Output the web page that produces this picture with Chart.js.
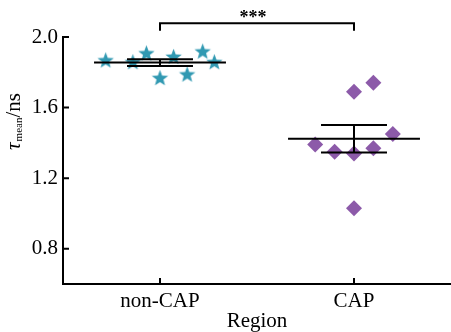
<!DOCTYPE html>
<html>
<head>
<meta charset="utf-8">
<script src="https://cdn.jsdelivr.net/npm/chart.js"></script>
<style>
  html, body { margin: 0; padding: 0; background: #fff; }
  #wrap { width: 451px; height: 332px; }
</style>
</head>
<body>
<div id="wrap"><canvas id="chart" width="451" height="332"></canvas></div>
<script>
var categories = ['non-CAP', 'CAP'];
var yTicks = [0.8, 1.2, 1.6, 2.0];

// jittered x positions and values for each group
var nonCapX = [0.72, 0.86, 0.93, 1.0, 1.07, 1.14, 1.22, 1.28];
var nonCapY = [1.87, 1.86, 1.91, 1.77, 1.89, 1.79, 1.92, 1.86];
var capX = [1.8, 1.9, 2.0, 2.0, 2.0, 2.1, 2.1, 2.2];
var capY = [1.39, 1.35, 1.69, 1.34, 1.03, 1.74, 1.37, 1.45];

var meanVals = [1.855, 1.423];
var semVals = [0.019, 0.078];
var sigLabel = '***';
var sigLevel = 2.078;
var sigDrop = 2.036;

var serif = '"Liberation Serif", "DejaVu Serif", serif';
var teal = '#3199b2';
var purple = '#8c5aa9';

function pts(xs, ys) {
    return xs.map(function (x, i) { return { x: x, y: ys[i] }; });
}

// filled five point star for the point style
function makeStar(r, color) {
    var c = document.createElement('canvas');
    c.width = 2 * r + 2;
    c.height = 2 * r + 2;
    var g = c.getContext('2d');
    var cx = c.width / 2, cy = c.height / 2 + r * 0.1;
    g.beginPath();
    for (var i = 0; i < 10; i++) {
        var rad = i % 2 === 0 ? r : r * 0.42;
        var a = -Math.PI / 2 + i * Math.PI / 5;
        var px = cx + rad * Math.cos(a), py = cy + rad * Math.sin(a);
        if (i === 0) g.moveTo(px, py); else g.lineTo(px, py);
    }
    g.closePath();
    g.fillStyle = color;
    g.fill();
    return c;
}

var starImg = makeStar(8.6, teal);

var extras = {
    id: 'extras',
    afterDatasetsDraw: function (chart) {
        var ctx = chart.ctx;
        var xs = chart.scales.x, ys = chart.scales.y;
        ctx.save();
        ctx.strokeStyle = '#000';
        ctx.lineWidth = 2;
        // mean and sem bars
        meanVals.forEach(function (m, i) {
            var c = i + 1;
            var s = semVals[i];
            ctx.beginPath();
            ctx.moveTo(xs.getPixelForValue(c - 0.34), ys.getPixelForValue(m));
            ctx.lineTo(xs.getPixelForValue(c + 0.34), ys.getPixelForValue(m));
            ctx.moveTo(xs.getPixelForValue(c - 0.17), ys.getPixelForValue(m + s));
            ctx.lineTo(xs.getPixelForValue(c + 0.17), ys.getPixelForValue(m + s));
            ctx.moveTo(xs.getPixelForValue(c - 0.17), ys.getPixelForValue(m - s));
            ctx.lineTo(xs.getPixelForValue(c + 0.17), ys.getPixelForValue(m - s));
            ctx.moveTo(xs.getPixelForValue(c), ys.getPixelForValue(m - s));
            ctx.lineTo(xs.getPixelForValue(c), ys.getPixelForValue(m + s));
            ctx.stroke();
        });
        // significance bracket
        var x1 = xs.getPixelForValue(1), x2 = xs.getPixelForValue(2);
        var yTop = ys.getPixelForValue(sigLevel), yBot = ys.getPixelForValue(sigDrop);
        ctx.beginPath();
        ctx.moveTo(x1, yBot);
        ctx.lineTo(x1, yTop);
        ctx.lineTo(x2, yTop);
        ctx.lineTo(x2, yBot);
        ctx.stroke();
        ctx.fillStyle = '#000';
        ctx.font = 'bold 18px ' + serif;
        ctx.textAlign = 'center';
        ctx.textBaseline = 'alphabetic';
        ctx.fillText(sigLabel, (x1 + x2) / 2 - 4, yTop);
        // inward tick marks
        ctx.lineWidth = 2;
        ctx.beginPath();
        yTicks.forEach(function (v) {
            var py = ys.getPixelForValue(v);
            ctx.moveTo(chart.chartArea.left, py);
            ctx.lineTo(chart.chartArea.left + 6, py);
        });
        [1, 2].forEach(function (v) {
            var px = xs.getPixelForValue(v);
            ctx.moveTo(px, chart.chartArea.bottom);
            ctx.lineTo(px, chart.chartArea.bottom - 6);
        });
        ctx.stroke();
        // y axis title with subscript
        ctx.translate(20, 122);
        ctx.rotate(-Math.PI / 2);
        ctx.textAlign = 'left';
        ctx.font = 'italic 21px ' + serif;
        var w1 = ctx.measureText('\u03c4').width;
        ctx.font = '11px ' + serif;
        var w2 = ctx.measureText('mean').width;
        ctx.font = '21px ' + serif;
        var w3 = ctx.measureText('/ns').width;
        var x0 = -(w1 + w2 + w3) / 2;
        ctx.font = 'italic 21px ' + serif;
        ctx.fillText('\u03c4', x0, 0);
        ctx.font = '11px ' + serif;
        ctx.fillText('mean', x0 + w1 + 1, 2);
        ctx.font = '21px ' + serif;
        ctx.fillText('/ns', x0 + w1 + w2 + 1, 0);
        ctx.restore();
    }
};

new Chart(document.getElementById('chart'), {
    type: 'scatter',
    data: {
        datasets: [
            {
                label: categories[0],
                data: pts(nonCapX, nonCapY),
                pointStyle: starImg,
                pointRadius: 9,
                clip: false
            },
            {
                label: categories[1],
                data: pts(capX, capY),
                pointStyle: 'rectRot',
                pointRadius: 8,
                pointBackgroundColor: purple,
                pointBorderWidth: 0,
                backgroundColor: purple,
                borderColor: purple,
                clip: false
            }
        ]
    },
    plugins: [extras],
    options: {
        responsive: false,
        animation: false,
        layout: { autoPadding: false, padding: { top: 37, left: 0, right: 0, bottom: 0 } },
        plugins: {
            legend: { display: false },
            tooltip: { enabled: false }
        },
        scales: {
            x: {
                type: 'linear',
                min: 0.5,
                max: 2.5,
                afterBuildTicks: function (s) {
                    s.ticks = [{ value: 1 }, { value: 2 }];
                },
                afterFit: function (s) { s.height = 48; },
                grid: { display: false, drawTicks: false },
                border: { display: true, color: '#000', width: 2 },
                ticks: {
                    color: '#000',
                    padding: 5,
                    maxRotation: 0,
                    font: { family: serif, size: 21 },
                    callback: function (v) { return categories[v - 1]; }
                },
                title: {
                    display: true,
                    text: 'Region',
                    color: '#000',
                    font: { family: serif, size: 21, lineHeight: 1 },
                    padding: { top: 0, bottom: 0 }
                }
            },
            y: {
                min: 0.6,
                max: 2.0,
                afterBuildTicks: function (s) {
                    s.ticks = yTicks.map(function (v) { return { value: v }; });
                },
                afterFit: function (s) { s.width = 63; },
                grid: { display: false, drawTicks: false },
                border: { display: true, color: '#000', width: 2 },
                ticks: {
                    color: '#000',
                    padding: 5,
                    font: { family: serif, size: 21 },
                    callback: function (v) { return v.toFixed(1); }
                }
            }
        }
    }
});
</script>
</body>
</html>
